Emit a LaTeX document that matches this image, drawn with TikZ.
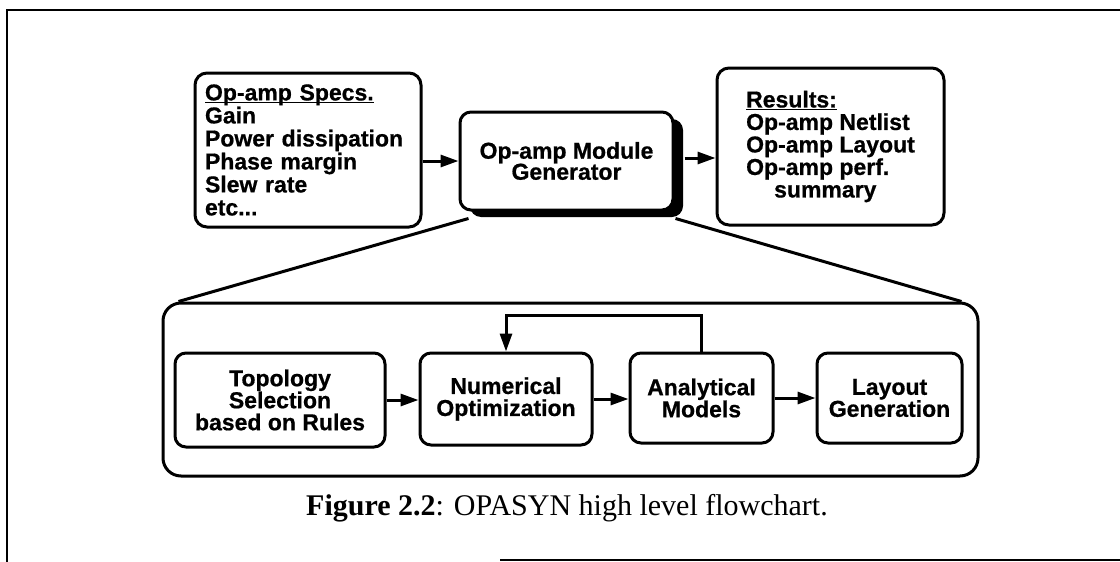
\documentclass[tikz,border=0pt]{standalone}
\usepackage{fontspec}
\setmainfont{Liberation Serif}
\newfontfamily\boxfont{Liberation Sans Bold}[FakeBold=0.7]
\usetikzlibrary{arrows.meta,shadows,calc}

% underline drawn at a fixed depth under the text
\newcommand\ulbar[1]{\setbox0\hbox{#1}\rlap{\rule[-3pt]{\wd0}{1.6pt}}\box0}

\tikzset{
  box/.style={draw, line width=3pt, rounded corners=11pt, fill=white,
    inner sep=0pt, align=center,
    font=\boxfont\fontsize{23}{22}\selectfont},
  shadowed/.style={general shadow={fill=black, shadow xshift=10pt, shadow yshift=-7pt}},
  conn/.style={line width=3pt, -{Triangle[length=18pt,width=12pt]}},
  plain/.style={line width=3pt},
  frame/.style={line width=2.5pt}
}

\begin{document}
\begin{tikzpicture}[x=1pt,y=-1pt]
\useasboundingbox (0,0) rectangle (1120,562);

% page frame
\draw[frame] (7,562) -- (7,10) -- (1120,10);
\draw[frame] (500,560) -- (1120,560);

% top row
\node[box, rounded corners=12pt, minimum width=226pt, minimum height=154pt,
      text width=206pt, align=left, font=\boxfont\fontsize{23}{23}\selectfont]
  (spec) at (308,150)
  {\ulbar{Op-amp Specs.}\\Gain\\Power dissipation\\Phase margin\\Slew rate\\etc...};

\node[box, shadowed, minimum width=213pt, minimum height=98pt,
      font=\boxfont\fontsize{23}{21}\selectfont]
  (gen) at (566.5,161) {Op-amp Module\\Generator};

\node[box, rounded corners=12pt, minimum width=227pt, minimum height=157pt,
      align=left, font=\boxfont\fontsize{23}{22.5}\selectfont]
  (res) at (830.5,146.5)
  {\ulbar{Results:}\\Op-amp Netlist\\Op-amp Layout\\Op-amp perf.\\\hspace*{28pt}summary};

\draw[conn] (spec.east |- gen.west) -- (gen.west);
\coordinate (genout) at ($(gen.east)+(10,-3)$);
\draw[conn] (genout) -- (genout -| res.west);

% expanded view of the generator
\node[draw, line width=3pt, rounded corners=18pt, minimum width=815pt,
      minimum height=173pt] (lower) at (570.5,389.5) {};

\draw[plain] ($(gen.south west)+(10,7)$) -- ($(lower.north west)+(17,0)$);
\draw[plain] ($(gen.south east)+(1,7)$) -- ($(lower.north east)+(-18,0)$);

\node[box, minimum width=210pt, minimum height=94pt] (topo) at (280,400)
  {Topology\\Selection\\based on Rules};
\node[box, minimum width=172pt, minimum height=92pt] (numer) at (506,399)
  {Numerical\\Optimization};
\node[box, minimum width=143pt, minimum height=90pt] (anal) at (701.5,398)
  {Analytical\\Models};
\node[box, minimum width=145pt, minimum height=90pt] (layout) at (889.5,398)
  {Layout\\Generation};

\draw[conn] (topo.east) -- (topo.east -| numer.west);
\draw[conn] (numer.east) -- (numer.east -| anal.west);
\draw[conn] (anal.east) -- (anal.east -| layout.west);
\draw[conn] (anal.north) -- ++(0,-36) -| (numer.north);

% caption
\node[anchor=base, inner sep=0pt, font=\fontsize{30}{32}\selectfont] (cap) at (567,515)
  {\textbf{Figure 2.2}: OPASYN high level flowchart.};
\end{tikzpicture}
\end{document}
